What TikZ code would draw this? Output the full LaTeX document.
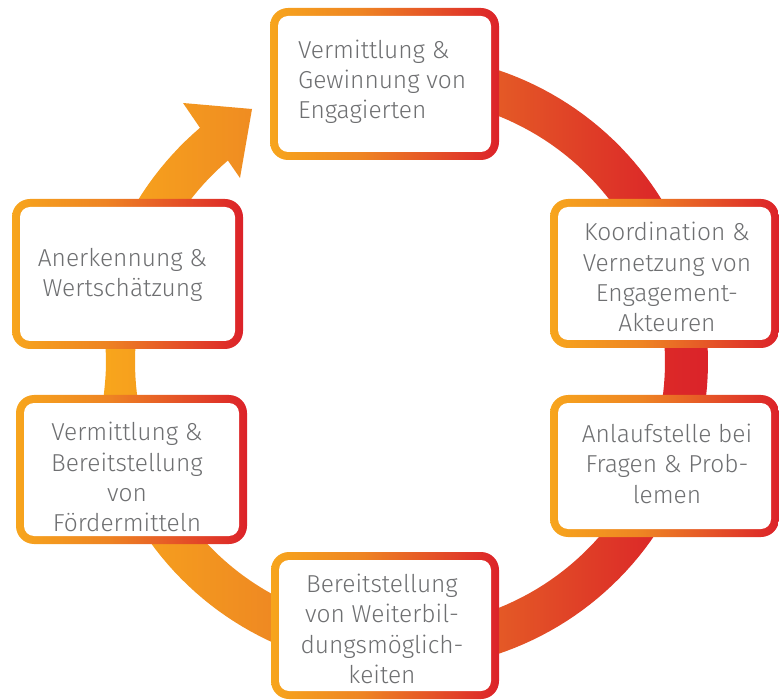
\documentclass[tikz,border=0pt]{standalone}
\usepackage{fontspec}
\setmainfont{Fira Sans}[UprightFont={* Light}]

% colours of the ring gradient (left to right)
\definecolor{ringA}{HTML}{F8A61C}
\definecolor{ringB}{HTML}{EF8A22}
\definecolor{ringC}{HTML}{E45A26}
\definecolor{ringD}{HTML}{DC2B28}
\definecolor{ringE}{HTML}{DB2329}
% colours of the box borders (left to right)
\definecolor{boxA}{HTML}{F7A51D}
\definecolor{boxB}{HTML}{EE8423}
\definecolor{boxC}{HTML}{E55427}
\definecolor{boxD}{HTML}{DC2229}
\definecolor{txt}{HTML}{6E6F71}

\pgfdeclarehorizontalshading{ringshade}{100bp}{color(0bp)=(ringA); color(25bp)=(ringA); color(38.5bp)=(ringB); color(57.5bp)=(ringC); color(70bp)=(ringD); color(75bp)=(ringE); color(100bp)=(ringE)}
\pgfdeclarehorizontalshading{boxshade}{100bp}{color(0bp)=(boxA); color(25bp)=(boxA); color(45bp)=(boxB); color(60bp)=(boxC); color(75bp)=(boxD); color(100bp)=(boxD)}

\begin{document}
\begin{tikzpicture}[x=1pt,y=-1pt,
  boxframe/.style={shade, shading=boxshade, rounded corners=18pt, inner sep=0pt},
  boxpad/.style={fill=white, rounded corners=10pt, inner sep=0pt},
  boxtext/.style={text=txt, font=\fontsize{24.5}{30.3}\selectfont, inner sep=0pt, align=center, anchor=base},
  declare function={rout(\t)=308-14*(max(0,1-((\t-540)/16)^2))^2;}]

\useasboundingbox (0,0) rectangle (779,700);

% arrow head corners
\coordinate (hOut) at (183,103);
\coordinate (hTip) at (252,109);
\coordinate (hIn) at (240,178);

% the circular arrow, running clockwise and ending in its head
\shade[shading=ringshade]
  plot[domain=265:589.5, samples=180, variable=\t] ({400+rout(\t)*cos(\t)}, {362+rout(\t)*sin(\t)})
  -- (hOut) -- (hTip) -- (hIn)
  -- plot[domain=589.5:265, samples=180, variable=\t] ({400+265*cos(\t)}, {362+265*sin(\t)})
  -- cycle;

% texts are placed by the baseline of their last line

% top
\node[boxframe, minimum width=229pt, minimum height=152pt] (fT) at (384.5,84) {};
\node[boxpad, minimum width=213pt, minimum height=136pt] (pT) at (fT.center) {};
\node[boxtext, align=left, anchor=base west] (tT) at (298,119) {Vermittlung \&\\Gewinnung von\\Engagierten};

% right, upper
\node[boxframe, minimum width=229pt, minimum height=149pt] (fR1) at (664.5,273.5) {};
\node[boxpad, minimum width=213pt, minimum height=133pt] (pR1) at (fR1.center) {};
\node[boxtext] (tR1) at (667,331.7) {Koordination \&\\Vernetzung von\\Engagement-\\Akteuren};

% right, lower
\node[boxframe, minimum width=229pt, minimum height=142pt] (fR2) at (664.5,466) {};
\node[boxpad, minimum width=213pt, minimum height=126pt] (pR2) at (fR2.center) {};
\node[boxtext] (tR2) at (667,503) {Anlaufstelle bei\\Fragen \& Prob-\\lemen};

% bottom
\node[boxframe, minimum width=228pt, minimum height=147pt] (fB) at (385,625.5) {};
\node[boxpad, minimum width=212pt, minimum height=131pt] (pB) at (fB.center) {};
\node[boxtext] (tB) at (382,683.3) {Bereitstellung\\von Weiterbil-\\dungsmöglich-\\keiten};

% left, lower
\node[boxframe, minimum width=231pt, minimum height=149pt] (fL2) at (131.5,469.5) {};
\node[boxpad, minimum width=215pt, minimum height=133pt] (pL2) at (fL2.center) {};
\node[boxtext] (tL2) at (127,531.7) {Vermittlung \&\\Bereitstellung\\von\\Fördermitteln};

% left, upper
\node[boxframe, minimum width=231pt, minimum height=150pt] (fL1) at (127.5,274) {};
\node[boxpad, minimum width=215pt, minimum height=134pt] (pL1) at (fL1.center) {};
\node[boxtext] (tL1) at (122.5,296.7) {Anerkennung \&\\Wertschätzung};

\end{tikzpicture}
\end{document}
